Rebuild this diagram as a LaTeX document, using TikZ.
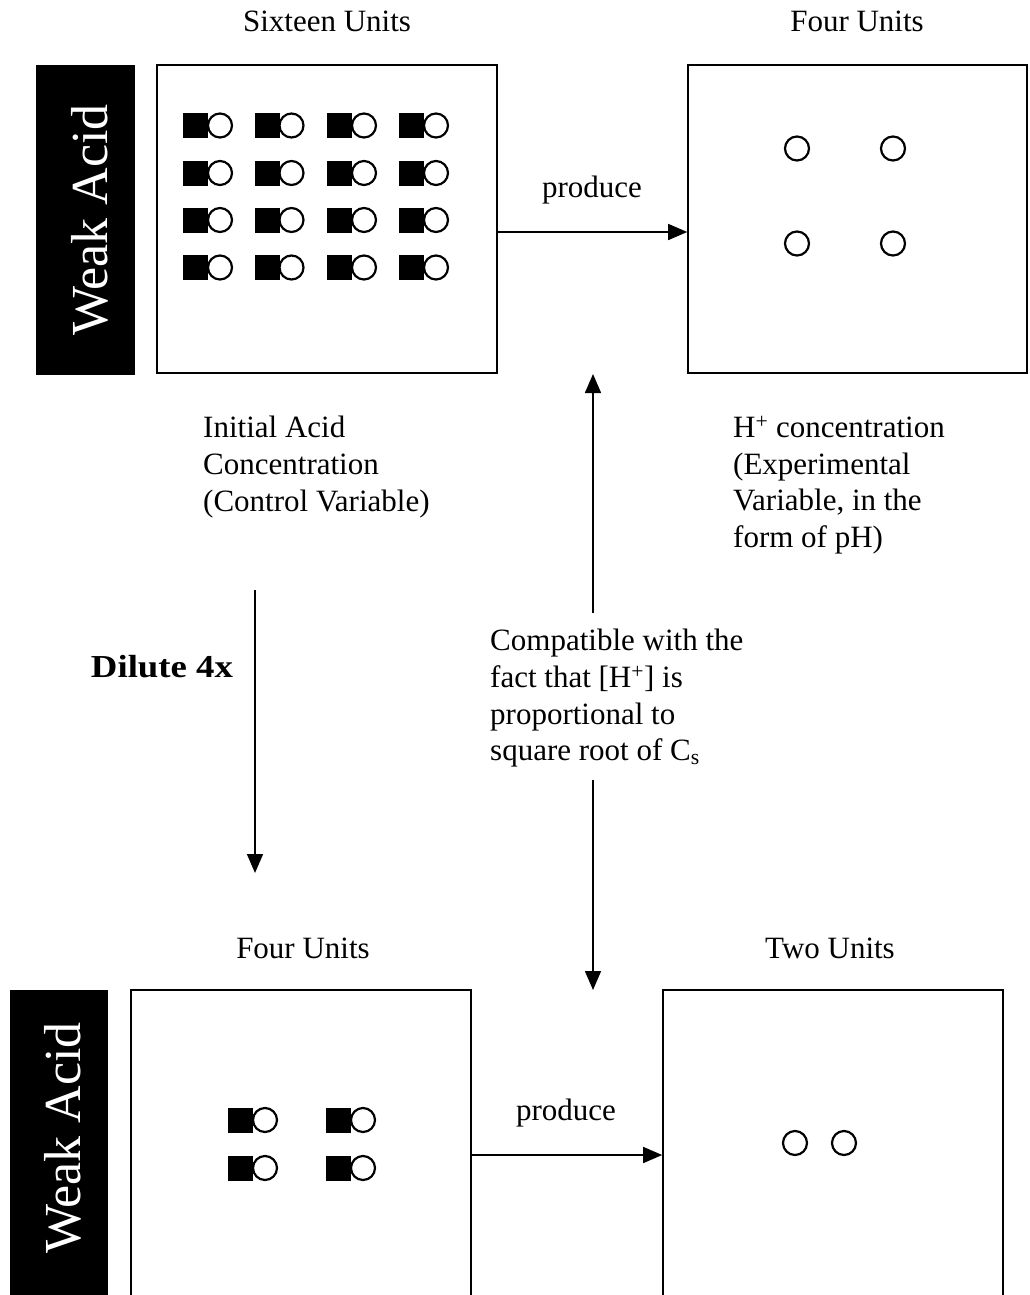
\documentclass[tikz,border=0pt]{standalone}
\usepackage{fontspec}
\setmainfont{Liberation Serif}
\usetikzlibrary{arrows.meta}
\begin{document}
\begin{tikzpicture}[x=1pt,y=-1pt,
  box/.style={draw,line width=1.6pt,inner sep=0},
  tag/.style={fill=black,inner sep=0},
  tagtext/.style={text=white,font=\fontsize{52}{60}\selectfont,rotate=90,anchor=base,inner sep=0},
  lbl/.style={font=\fontsize{31}{36.7}\selectfont,inner sep=0,anchor=base},
  para/.style={font=\fontsize{31}{36.7}\selectfont,inner sep=0,align=left,anchor=north west},
  arr/.style={line width=1.5pt,-{Triangle[length=19pt,width=16pt]}},
  mol/.pic={\fill (0pt,-12.5pt) rectangle (25pt,12.5pt); \draw[line width=2.2pt] (37pt,0pt) circle (12pt);},
  ion/.pic={\draw[line width=2.2pt] (0pt,0pt) circle (12pt);}
]
\useasboundingbox (0,0) rectangle (1029,1295);
\clip (0,0) rectangle (1029,1295);

% top row
\node[tag,minimum width=99pt,minimum height=310pt] (tag1) at (85.5,220) {};
\node[tagtext] (tag1t) at (107,220) {Weak Acid};
\node[box,minimum width=340pt,minimum height=308pt] (b1) at (327,219) {};
\node[box,minimum width=339pt,minimum height=308pt] (b2) at (857.5,219) {};
\node[lbl] (l1) at (327,32) {Sixteen Units};
\node[lbl] (l2) at (857,32) {Four Units};

\foreach \cx in {183,254.5,327,399}
  \foreach \cy in {125.5,173,220,267.5}
    \pic at (\cx,\cy) {mol};
\foreach \cx in {797,893}
  \foreach \cy in {148.5,243.5}
    \pic at (\cx,\cy) {ion};

\draw[arr] (b1.east |- 0,232) -- (b2.west |- 0,232);
\node[lbl] (pr1) at (592,197) {produce};

% middle texts
\node[para] (init) at (203,416) {Initial Acid\\Concentration\\(Control Variable)};
\node[para] (hconc) at (733,416) {H\textsuperscript{+} concentration\\(Experimental\\Variable, in the\\form of pH)};
\node[para] (compat) at (490,629) {Compatible with the\\fact that [H\textsuperscript{+}] is\\proportional to\\square root of C\textsubscript{s}};
\node[lbl,font=\fontsize{32}{38}\selectfont\bfseries,xscale=1.15] (dil) at (162,677) {Dilute 4x};

\coordinate (m1) at (593,613);
\coordinate (m2) at (593,374);
\coordinate (m3) at (593,780);
\coordinate (m4) at (593,990);
\draw[arr] (m1) -- (m2);
\draw[arr] (m3) -- (m4);
\coordinate (d1) at (255,590);
\coordinate (d2) at (255,873);
\draw[arr] (d1) -- (d2);

% bottom row
\node[lbl] (l3) at (303,958) {Four Units};
\node[lbl] (l4) at (830,958) {Two Units};
\node[tag,minimum width=98pt,minimum height=330pt] (tag2) at (59,1155) {};
\node[tagtext] (tag2t) at (80,1138) {Weak Acid};
\node[box,minimum width=340pt,minimum height=330pt] (b3) at (301,1155) {};
\node[box,minimum width=340pt,minimum height=330pt] (b4) at (833,1155) {};
\foreach \cx in {228,326}
  \foreach \cy in {1120,1168}
    \pic at (\cx,\cy) {mol};
\foreach \cx in {795,844}
  \pic at (\cx,1143) {ion};
\draw[arr] (b3.east) -- (b4.west);
\node[lbl] (pr2) at (566,1120) {produce};
\end{tikzpicture}
\end{document}
